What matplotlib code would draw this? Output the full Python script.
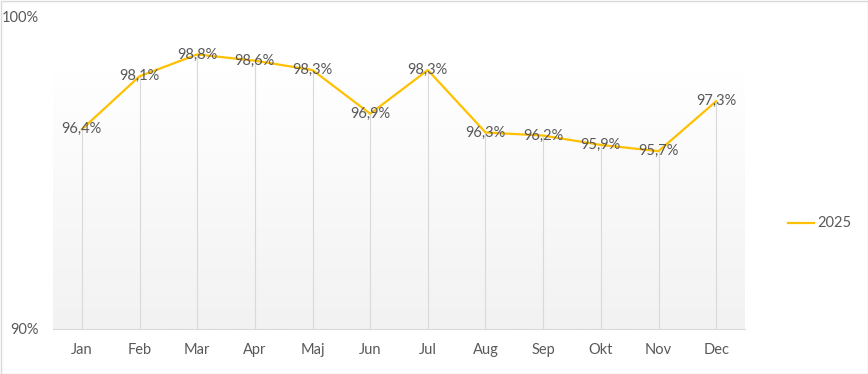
import matplotlib
matplotlib.use("Agg")
import matplotlib.pyplot as plt
from matplotlib.lines import Line2D
from matplotlib.patches import Rectangle
import numpy as np

months = ["Jan", "Feb", "Mar", "Apr", "Maj", "Jun", "Jul", "Aug", "Sep", "Okt", "Nov", "Dec"]
values_2025 = [96.4, 98.1, 98.8, 98.6, 98.3, 96.9, 98.3, 96.3, 96.2, 95.9, 95.7, 97.3]
y_ticks = [90, 100]
series_name = "2025"

GOLD = "#FFC000"
TXT = "#595959"
GRID = "#d9d9d9"
FS = 10.5

plt.rcParams.update({
    "font.family": ["Lato", "DejaVu Sans"],
    "font.size": FS,
    "text.color": TXT,
})

fig = plt.figure(figsize=(8.68, 3.74), dpi=100)
ax = fig.add_axes([53 / 868, 45 / 374, 692 / 868, 312 / 374])

x = np.arange(len(months))
ax.set_xlim(-0.5, len(months) - 0.5)
ax.set_ylim(90, 100)

# background gradient: white at top, light grey at bottom
t = np.linspace(0, 1, 256)
g = np.clip((t - 0.17) / 0.83, 0, 1)
shade = 1 - g * (1 - 0xf2 / 255)
img = np.stack([shade, shade, shade], axis=-1)[:, None, :].repeat(2, axis=1)
ax.imshow(img, extent=(-0.5, len(months) - 0.5, 90, 100), origin="upper",
          aspect="auto", zorder=0)

# drop lines
ax.vlines(x, 90, values_2025, color=GRID, linewidth=0.8, zorder=1)
ax.plot(x, values_2025, color=GOLD, linewidth=1.6, zorder=2, solid_joinstyle="round")

for xi, v in zip(x, values_2025):
    ax.text(xi, v, f"{v:.1f}%".replace(".", ","), ha="center", va="center",
            fontsize=FS, color=TXT, zorder=3)

for s in ["top", "right", "left"]:
    ax.spines[s].set_visible(False)
ax.spines["bottom"].set_color(GRID)
ax.spines["bottom"].set_linewidth(0.8)

ax.set_xticks(x)
ax.set_xticklabels(months)
ax.set_yticks(y_ticks)
ax.set_yticklabels([f"{v}%" for v in y_ticks])
ax.tick_params(axis="x", length=0, pad=10, labelcolor=TXT, labelsize=FS)
ax.tick_params(axis="y", length=0, pad=10.5, labelcolor=TXT, labelsize=FS)

# legend
fig.lines.append(Line2D([788 / 868, 814 / 868], [1 - 223 / 374] * 2, color=GOLD,
                        linewidth=1.6, transform=fig.transFigure))
fig.text(817 / 868, 1 - 223 / 374, series_name, ha="left", va="center", fontsize=FS, color=TXT)

# chart border
fig.patches.append(Rectangle((0.5 / 868, 0.5 / 374), 867 / 868, 373 / 374, fill=False,
                             edgecolor=GRID, linewidth=1.0, transform=fig.transFigure))

fig.savefig("out.png", dpi=100, facecolor="white")
